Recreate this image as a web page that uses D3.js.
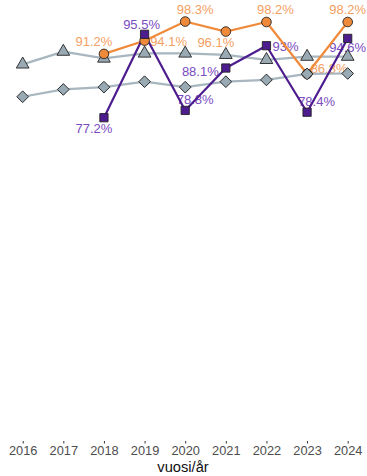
<!DOCTYPE html>
<html><head><meta charset="utf-8">
<script src="https://cdn.jsdelivr.net/npm/d3@7"></script>
<style>
html,body{margin:0;padding:0;background:#fff;}
text{font-family:"Liberation Sans",Arial,Helvetica,sans-serif;}
</style></head>
<body>
<script>
const years = [2016, 2017, 2018, 2019, 2020, 2021, 2022, 2023, 2024];
const yearLabels = ["2016","2017","2018","2019","2020","2021","2022","2023","2024"];
const triangleValues = [88.9, 91.7, 90.2, 91.3, 91.3, 91.0, 89.9, 90.6, 90.6];
const diamondValues = [81.8, 83.4, 83.9, 85.1, 83.9, 85.1, 85.5, 86.8, 86.9];
const orangeYears = [2018, 2019, 2020, 2021, 2022, 2023, 2024];
const orangeValues = [91.2, 94.1, 98.3, 96.1, 98.2, 86.8, 98.2];
const orangeLabels = ["91.2%","94.1%","98.3%","96.1%","98.2%","86.8%","98.2%"];
const purpleYears = [2018, 2019, 2020, 2021, 2022, 2023, 2024];
const purpleValues = [77.2, 95.5, 78.8, 88.1, 93.0, 78.4, 94.6];
const purpleLabels = ["77.2%","95.5%","78.8%","88.1%","93%","78.4%","94.6%"];
const xTitle = "vuosi/år";

// label offsets (repelled placement), separate from data
const orangeOffsets = [[-10,-8],[24,5],[10,-8],[-10,15],[9,-8],[22,-1],[0,-8]];
const purpleOffsets = [[-10,15.5],[-3,-5],[10,-6],[-25.5,8],[19,5.5],[9.5,-6],[0,14]];

const W = 367, H = 476;
const svg = d3.select("body").append("svg").attr("width", W).attr("height", H);

const x = d3.scalePoint().domain(years).range([22.7, 347.7]);
const y = d3.scaleLinear().domain([75, 100]).range([13.8 + 25*4.557, 13.8]);

const axisY = 441;
const xAxis = d3.axisBottom(x).tickFormat((d,i)=>yearLabels[i]).tickSize(2.5).tickPadding(2);
const gx = svg.append("g").attr("transform", `translate(0,${axisY})`).call(xAxis);
gx.select(".domain").remove();
gx.selectAll(".tick line").attr("stroke", "#333").attr("stroke-width", 1);
gx.selectAll(".tick text").attr("fill", "#4d4d4d").attr("font-size", 12.8);

svg.append("text").attr("x", 183).attr("y", 472).attr("text-anchor","middle")
  .attr("font-size", 14.7).attr("fill","#111").text(xTitle);

const oCol = "#f08a3b", oLab = "#f4a063";
const pCol = "#4d1c8f", pLab = "#7a4bbf";
const gCol = "#a8b6bf", gFill = "#9aaab4";

const lab = svg.append("g");
lab.selectAll(".ol").data(orangeValues).join("text")
  .attr("x",(d,i)=>x(orangeYears[i])+orangeOffsets[i][0])
  .attr("y",(d,i)=>y(d)+orangeOffsets[i][1])
  .attr("text-anchor","middle").attr("font-size",13).attr("fill",oLab)
  .text((d,i)=>orangeLabels[i]);
lab.selectAll(".pl").data(purpleValues).join("text")
  .attr("x",(d,i)=>x(purpleYears[i])+purpleOffsets[i][0])
  .attr("y",(d,i)=>y(d)+purpleOffsets[i][1])
  .attr("text-anchor","middle").attr("font-size",13).attr("fill",pLab)
  .text((d,i)=>purpleLabels[i]);

const line = d3.line().x(d=>x(d[0])).y(d=>y(d[1]));
const zip = (a,b)=>a.map((v,i)=>[v,b[i]]);
const tri = zip(years, triangleValues), dia = zip(years, diamondValues);
const ora = zip(orangeYears, orangeValues), pur = zip(purpleYears, purpleValues);

const lines = svg.append("g").attr("fill","none").attr("stroke-width",2.2).attr("stroke-linejoin","round");
lines.append("path").attr("d", line(tri)).attr("stroke", gCol);
lines.append("path").attr("d", line(dia)).attr("stroke", gCol);
lines.append("path").attr("d", line(ora)).attr("stroke", oCol);
lines.append("path").attr("d", line(pur)).attr("stroke", pCol);

const pts = svg.append("g").attr("stroke","#222").attr("stroke-width",0.9);
pts.selectAll(".t").data(tri).join("path")
  .attr("transform", d=>`translate(${x(d[0])},${y(d[1])})`)
  .attr("d", d3.symbol(d3.symbolTriangle, 70)).attr("fill", gFill);
pts.selectAll(".o").data(ora).join("circle")
  .attr("cx", d=>x(d[0])).attr("cy", d=>y(d[1])).attr("r", 4.8).attr("fill", oCol);
pts.selectAll(".d").data(dia).join("path")
  .attr("transform", d=>`translate(${x(d[0])},${y(d[1])}) rotate(45)`)
  .attr("d", d3.symbol(d3.symbolSquare, 68)).attr("fill", gFill);
pts.selectAll(".p").data(pur).join("path")
  .attr("transform", d=>`translate(${x(d[0])},${y(d[1])})`)
  .attr("d", d3.symbol(d3.symbolSquare, 68)).attr("fill", pCol);
</script>
</body></html>
